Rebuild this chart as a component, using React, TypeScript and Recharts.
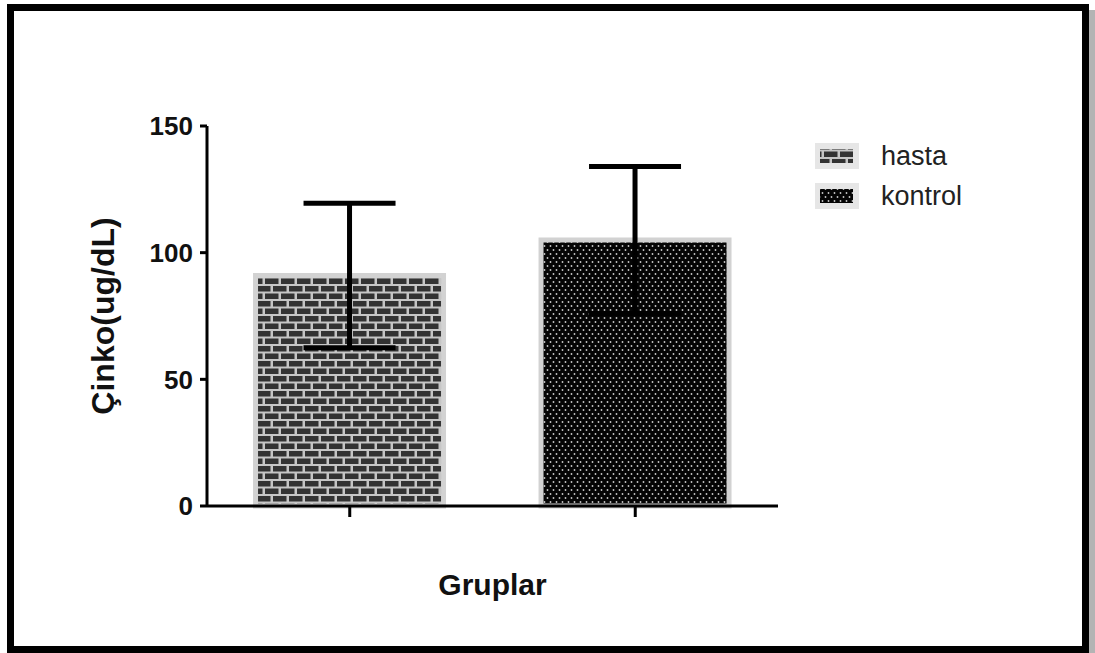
import React from 'react';
import { BarChart, Bar, XAxis, YAxis, ErrorBar, Cell } from 'recharts';

const groups = ['hasta', 'kontrol'];
const means = [91, 105];
const sds = [28.5, 29];
const yTicks = [0, 50, 100, 150];
const patternIds = ['brick', 'dots'];

const data = groups.map((g, i) => ({ name: g, mean: means[i], sd: sds[i] }));

const FONT = '"Liberation Sans", Arial, sans-serif';

const Patterns = () => (
    <svg width={0} height={0} style={{ position: 'absolute' }}>
        <defs>
            <pattern id="brick" patternUnits="userSpaceOnUse" width={16} height={15}>
                <rect width={16} height={15} fill="#c6c6c6" />
                <rect x={1} y={1} width={13.5} height={5.5} fill="#333" />
                <rect x={-7} y={8.5} width={13.5} height={5.5} fill="#333" />
                <rect x={9} y={8.5} width={13.5} height={5.5} fill="#333" />
            </pattern>
            <pattern id="dots" patternUnits="userSpaceOnUse" width={6} height={8}>
                <rect width={6} height={8} fill="#050505" />
                <circle cx={1.5} cy={2} r={0.9} fill="#c8c8c8" />
                <circle cx={4.5} cy={6} r={0.9} fill="#c8c8c8" />
            </pattern>
        </defs>
    </svg>
);

const NoTick = () => <g />;

const App: React.FC = () => {
    return (
        <div style={{ position: 'absolute', left: 0, top: 0, width: 1095, height: 653, background: '#fff' }}>
            <Patterns />
            {/* picture frame */}
            <div style={{ position: 'absolute', left: 7, top: 4, width: 1082, height: 649, boxSizing: 'border-box', border: '7px solid #000' }} />
            <div style={{ position: 'absolute', left: 1089, top: 10, width: 6, height: 643, background: '#b4b4b4' }} />

            <div style={{ position: 'absolute', left: 0, top: 0 }}>
                <BarChart
                    width={1095}
                    height={653}
                    data={data}
                    margin={{ top: 126, right: 317, bottom: 52, left: 87 }}
                    barCategoryGap="17%"
                >
                    <Bar dataKey="mean" stroke="#d2d2d2" strokeWidth={5} isAnimationActive={false}>
                        {data.map((d, i) => (
                            <Cell key={d.name} fill={`url(#${patternIds[i]})`} />
                        ))}
                        <ErrorBar dataKey="sd" width={46} strokeWidth={5} stroke="#000" direction="y" isAnimationActive={false} />
                    </Bar>
                    <XAxis
                        dataKey="name"
                        height={95}
                        stroke="#000"
                        strokeWidth={3}
                        tickSize={11}
                        tick={<NoTick />}
                        label={{ value: 'Gruplar', position: 'insideBottom', offset: 6, style: { fontFamily: FONT, fontWeight: 'bold', fontSize: 30, fill: '#111' } }}
                    />
                    <YAxis
                        width={120}
                        domain={[0, 150]}
                        ticks={yTicks}
                        stroke="#000"
                        strokeWidth={3}
                        tickSize={7}
                        tickMargin={7}
                        tick={{ fontFamily: FONT, fontWeight: 'bold', fontSize: 26, fill: '#111' }}
                        label={{ value: 'Çinko(ug/dL)', angle: -90, position: 'insideLeft', offset: 16, style: { textAnchor: 'middle', fontFamily: FONT, fontWeight: 'bold', fontSize: 32, fill: '#111' } }}
                    />
                </BarChart>
            </div>

            {/* legend */}
            <div style={{ position: 'absolute', left: 815, top: 136, fontFamily: FONT, fontSize: 27, color: '#222' }}>
                {groups.map((g, i) => (
                    <div key={g} style={{ display: 'flex', alignItems: 'center', height: 40 }}>
                        <svg width={44} height={26} style={{ marginRight: 22 }}>
                            <rect x={0} y={0} width={44} height={26} fill="#e6e6e6" />
                            <rect x={5} y={6} width={33} height={14} fill={`url(#${patternIds[i]})`} />
                        </svg>
                        <span>{g}</span>
                    </div>
                ))}
            </div>
        </div>
    );
};

export default App;
